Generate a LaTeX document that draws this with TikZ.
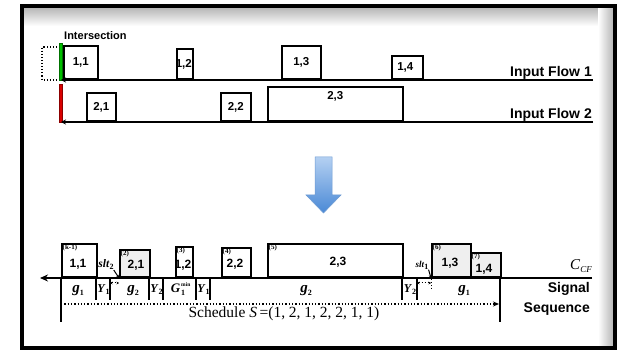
\documentclass[tikz,border=0pt]{standalone}
\usepackage{fontspec}
\setmainfont{Liberation Serif}
\newfontfamily\headfont{Liberation Sans}
\usetikzlibrary{arrows.meta}

\definecolor{arrowtop}{HTML}{B4D0F2}
\definecolor{arrowbot}{HTML}{4A89D6}
\definecolor{arrowedge}{HTML}{6E9BD2}
\definecolor{pktgrey}{HTML}{EFEFEF}

% italic symbol with a subscript
\newcommand\symsub[2]{\textbf{\textit{#1}}\raisebox{-0.35ex}{\fontsize{8}{8}\selectfont\bfseries #2}}
% G with stacked "min" and "1"
\newcommand\gminlbl{\textbf{\textit{G}}\kern1pt\rlap{\raisebox{1.1ex}{\fontsize{5.5}{5.5}\selectfont\bfseries min}}\raisebox{-0.35ex}{\fontsize{8}{8}\selectfont\bfseries 1}}

\tikzset{
  pkt/.style={draw, line width=1.6pt, fill=white, inner sep=0pt, anchor=south west},
  pktgray/.style={pkt, fill=pktgrey},
  pktlbl/.style={font=\headfont\bfseries\fontsize{11.5}{11.5}\selectfont, inner sep=0pt},
  pktlblb/.style={font=\headfont\bfseries\fontsize{12}{12}\selectfont, inner sep=0pt},
  ordlbl/.style={font=\bfseries\fontsize{7}{7}\selectfont, inner sep=0pt, anchor=north west},
  flowline/.style={line width=1.6pt, -{Stealth[length=5pt,width=5pt]}},
  mainline/.style={line width=1.8pt, -{Stealth[length=8pt,width=7pt]}},
  sep/.style={line width=1.5pt},
  longsep/.style={line width=1.8pt},
  headlbl/.style={font=\headfont\bfseries\fontsize{14}{14}\selectfont, inner sep=0pt},
  gaplbl/.style={font=\fontsize{15}{15}\selectfont, inner sep=0pt, anchor=base},
  smalllbl/.style={font=\fontsize{12}{12}\selectfont, inner sep=0pt, anchor=base},
  sltgap/.style={dotted, line width=1pt, {Stealth[length=2.5pt,width=2.5pt]}-{Stealth[length=2.5pt,width=2.5pt]}},
  sltptr/.style={line width=1pt, -{Stealth[length=3pt,width=3pt]}},
}

\begin{document}
\begin{tikzpicture}[x=1pt,y=-1pt]
\useasboundingbox (0,0) rectangle (621,352);

% frame with inner shadow
\shade[top color=black!28, bottom color=white] (24,8) rectangle (613,26);
\shade[left color=white, right color=black!28] (598,8) rectangle (613,346);
\draw[line width=3.5pt] (22,6) rectangle (615,348);

% ---------------- input flows ----------------
\node[font=\headfont\bfseries\fontsize{11}{11}\selectfont, inner sep=0pt, anchor=base west] (isect) at (64,40) {Intersection};

\draw[dotted, line width=1.1pt] (60,47) -| (42,80) -- (60,80);
\node[draw=green!45!black, fill=green!75!black, line width=0.4pt, inner sep=0pt,
      minimum width=3.5, minimum height=37, anchor=south] (gbar) at (60.5,80) {};
\node[draw=red!55!black, fill=red!85!black, line width=0.4pt, inner sep=0pt,
      minimum width=3.5, minimum height=38, anchor=south] (rbar) at (60.5,122) {};

\node[pkt, minimum width=34, minimum height=33] (t11) at (63,80) {};
\node[pkt, minimum width=16, minimum height=30] (t12) at (176,80) {};
\node[pkt, minimum width=39, minimum height=33] (t13) at (281,80) {};
\node[pkt, minimum width=31, minimum height=23] (t14) at (391,80) {};
\node[pkt, minimum width=29, minimum height=28] (t21) at (86,122) {};
\node[pkt, minimum width=30, minimum height=28] (t22) at (220,122) {};
\node[pkt, minimum width=135, minimum height=34] (t23) at (267,122) {};

\node[pktlbl] at (t11.center) {1,1};
\node[pktlbl] at ([xshift=-1pt]t12.center) {1,2};
\node[pktlbl] at (t13.center) {1,3};
\node[pktlbl] at ([xshift=-2pt]t14.center) {1,4};
\node[pktlbl] at (t21.center) {2,1};
\node[pktlbl] at (t22.center) {2,2};
\node[pktlbl] at ([yshift=-10pt]t23.north) {2,3};

\coordinate (f1R) at (593,80);
\coordinate (f1L) at (61,80);
\coordinate (f2R) at (593,122);
\coordinate (f2L) at (61,122);
\draw[flowline] (f1R) -- (f1L);
\draw[flowline] (f2R) -- (f2L);
\node[headlbl, anchor=base east] (in1) at (592,77) {Input Flow 1};
\node[headlbl, anchor=base east] (in2) at (592,119) {Input Flow 2};

% ---------------- down arrow ----------------
\shadedraw[top color=arrowtop, bottom color=arrowbot, draw=arrowedge, line width=0.5pt]
  (315,157) -- (332,157) -- (332,195) -- (341,195) -- (323.5,213) -- (306,195) -- (315,195) -- cycle;

% ---------------- signal sequence ----------------
\node[pkt, minimum width=35, minimum height=33] (b11) at (61,278) {};
\node[pktgray, minimum width=30, minimum height=27] (b21) at (119,278) {};
\node[pkt, minimum width=17, minimum height=30] (b12) at (175,278) {};
\node[pkt, minimum width=29, minimum height=29] (b22) at (221,278) {};
\node[pkt, minimum width=135, minimum height=33] (b23) at (267,278) {};
\node[pktgray, minimum width=39, minimum height=33] (b13) at (431,278) {};
\node[pktgray, minimum width=30, minimum height=24] (b14) at (470,278) {};

\node[pktlblb] at (78,264) {1,1};
\node[pktlblb] at (136,265) {2,1};
\node[pktlblb] at (183,265) {1,2};
\node[pktlblb] at (235,264) {2,2};
\node[pktlblb] at (338,262) {2,3};
\node[pktlblb] at (450,263) {1,3};
\node[pktlblb] at (484,269) {1,4};

\node[ordlbl] at ([shift={(1.5pt,-1.5pt)}]b11.north west) {(k-1)};
\node[ordlbl] at ([shift={(1.5pt,-1.5pt)}]b21.north west) {(2)};
\node[ordlbl] at ([shift={(1.5pt,-1.5pt)}]b12.north west) {(3)};
\node[ordlbl] at ([shift={(1.5pt,-1.5pt)}]b22.north west) {(4)};
\node[ordlbl] at ([shift={(1.5pt,-1.5pt)}]b23.north west) {(5)};
\node[ordlbl] at ([shift={(1.5pt,-1.5pt)}]b13.north west) {(6)};
\node[ordlbl] at ([shift={(1.5pt,-1.5pt)}]b14.north west) {(7)};

\coordinate (mR) at (592,278);
\coordinate (mL) at (40,278);
\draw[mainline] (mR) -- (mL);
\node[font=\fontsize{15}{15}\selectfont, inner sep=0pt, anchor=base east] (ccf) at (592,270)
  {\textit{C}\raisebox{-0.4ex}{\fontsize{9}{9}\selectfont\itshape CF}};

% phase boundaries below the line
\coordinate (p0) at (61,278);
\coordinate (p9) at (500,278);
\draw[longsep] (p0) -- ++(0,44);
\draw[longsep] (p9) -- ++(0,44);
\foreach \x in {96,110,149,163,196,210,402,417}
  \draw[sep] (\x,278) -- ++(0,22);

% phase labels
\node[gaplbl] (g1a) at (78,293) {\symsub{g}{1}};
\node[smalllbl] (y1a) at (103.5,293) {\symsub{Y}{1}};
\node[gaplbl] (g2a) at (133,293) {\symsub{g}{2}};
\node[smalllbl] (y2a) at (156.5,293) {\symsub{Y}{2}};
\node[font=\fontsize{13}{13}\selectfont, inner sep=0pt, anchor=base] (gmin) at (178,293) {\gminlbl};
\node[smalllbl] (y1b) at (203.5,293) {\symsub{Y}{1}};
\node[gaplbl] (g2b) at (306,293) {\symsub{g}{2}};
\node[smalllbl] (y2b) at (410,293) {\symsub{Y}{2}};
\node[gaplbl] (g1b) at (464,293) {\symsub{g}{1}};

% slack gaps
\coordinate (sA) at (110,283);
\coordinate (sB) at (119,283);
\coordinate (sC) at (417,283);
\coordinate (sD) at (431,283);
\draw[sltgap] (sA) -- (sB);
\draw[sltgap] (sC) -- (sD);
\draw[dotted, line width=0.9pt] (431,279) -- (431,289);
\node[font=\fontsize{11.5}{11.5}\selectfont, inner sep=0pt, anchor=base] (slt2) at (106,268) {\symsub{slt}{2}};
\node[font=\fontsize{9}{9}\selectfont, inner sep=0pt, anchor=base] (slt1) at (422,268) {\symsub{slt}{1}};
\draw[sltptr] (slt2.south east) -- (b21.south west);
\draw[sltptr] (slt1.south east) -- (b13.south west);

% schedule span
\coordinate (schL) at (61,304);
\coordinate (schR) at (499,304);
\draw[dotted, line width=1.3pt, -{Stealth[length=6pt,width=5pt]}] (schL) -- (schR);
\node[font=\fontsize{15.5}{15.5}\selectfont, inner sep=0pt, anchor=base] (sched) at (284,318)
  {Schedule \textit{S}\,=(1, 2, 1, 2, 2, 1, 1)};

\node[headlbl, anchor=base east] (sig) at (590,293) {Signal};
\node[headlbl, anchor=base east] (seq) at (590,313) {Sequence};
\end{tikzpicture}
\end{document}
